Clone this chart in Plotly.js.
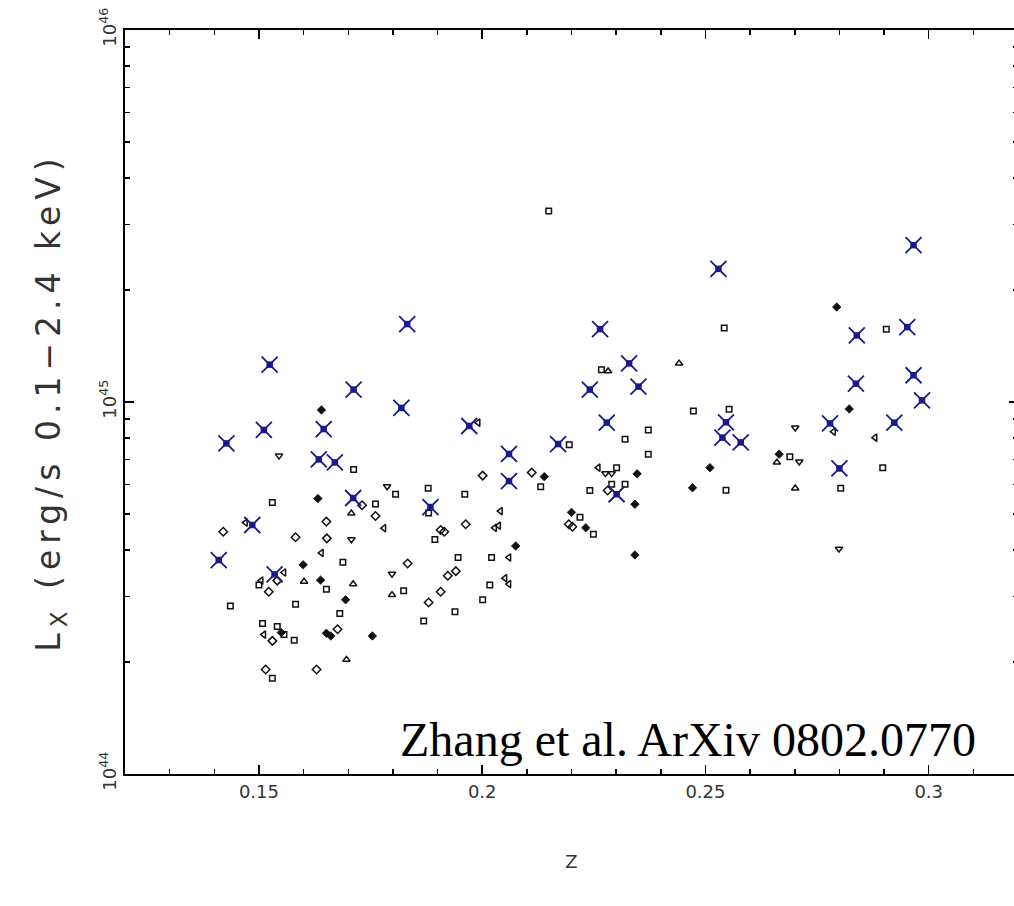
<!DOCTYPE html>
<html>
<head>
<meta charset="utf-8">
<script src="https://cdn.plot.ly/plotly-3.0.1.min.js"></script>
<style>
  html, body { margin: 0; padding: 0; overflow: hidden; background: #fff; }
  #chart { width: 1020px; height: 906px; }
  .ytitle { letter-spacing: 6px; }
</style>
</head>
<body>
<div id="chart"></div>
<script>
// ---- Data (redshift z, X-ray luminosity Lx in erg/s) ----
// Blue crosses
const crossZ = [0.1832,0.1524,0.1712,0.1819,0.1511,0.1645,0.1427,0.1634,0.1670,0.1711,0.1485,0.1410,0.1535,
  0.2264,0.2329,0.2241,0.2350,0.1971,0.2279,0.2170,0.2060,0.2060,0.2301,0.1884,
  0.2966,0.2529,0.2839,0.2952,0.2966,0.2837,0.2985,0.2546,0.2779,0.2923,0.2538,0.2579,0.2800];
const crossLx = [1.62e45,1.26e45,1.08e45,9.64e44,8.41e44,8.46e44,7.74e44,7.01e44,6.88e44,5.52e44,4.67e44,3.76e44,3.44e44,
  1.57e45,1.27e45,1.08e45,1.10e45,8.62e44,8.80e44,7.71e44,7.25e44,6.13e44,5.65e44,5.22e44,
  2.64e45,2.28e45,1.51e45,1.59e45,1.18e45,1.12e45,1.01e45,8.82e44,8.76e44,8.80e44,8.02e44,7.79e44,6.63e44];

// Open squares
const squareZ = [0.1712,0.1806,0.1879,0.1761,0.1530,0.1880,0.1688,0.1500,0.1651,0.1824,0.1436,0.1582,0.1681,0.1869,
  0.1508,0.1541,0.1556,0.1579,0.1530,0.2267,0.2473,0.2372,0.2320,0.2195,0.2372,0.2131,0.2301,0.2290,0.2320,0.2241,
  0.1961,0.2219,0.2249,0.1894,0.1946,0.2021,0.2149,0.2542,0.2905,0.2553,0.2689,0.2897,0.2546,0.2803,0.2017,0.2001,0.1939];
const squareLx = [6.58e44,5.65e44,5.86e44,5.32e44,5.37e44,5.03e44,3.71e44,3.22e44,3.14e44,3.11e44,2.83e44,2.86e44,2.70e44,2.58e44,
  2.54e44,2.49e44,2.37e44,2.29e44,1.81e44,1.22e45,9.46e44,8.41e44,7.94e44,7.67e44,7.24e44,5.92e44,6.66e44,6.01e44,6.01e44,5.78e44,
  5.65e44,4.90e44,4.41e44,4.27e44,3.82e44,3.82e44,3.26e45,1.58e45,1.57e45,9.56e44,7.13e44,6.66e44,5.79e44,5.86e44,3.22e44,2.94e44,2.73e44];

// Open diamonds
const diamondZ = [0.1731,0.1761,0.1420,0.1651,0.1582,0.1652,0.1833,0.1541,0.1522,0.1880,0.1530,0.1676,0.1515,0.1629,
  0.2001,0.2111,0.2281,0.1963,0.2194,0.2202,0.1907,0.1915,0.1923,0.1941,0.1907];
const diamondLx = [5.28e44,4.94e44,4.48e44,4.77e44,4.33e44,4.30e44,3.68e44,3.31e44,3.09e44,2.89e44,2.28e44,2.45e44,1.91e44,1.91e44,
  6.34e44,6.46e44,5.78e44,4.69e44,4.69e44,4.62e44,4.53e44,4.48e44,3.41e44,3.51e44,3.09e44];

// Open triangles (up)
const triUpZ = [0.1707,0.1601,0.1711,0.1798,0.1696,0.2282,0.2441,0.2660,0.2701];
const triUpLx = [5.02e44,3.29e44,3.24e44,3.03e44,2.03e44,1.21e45,1.27e45,6.88e44,5.86e44];

// Open triangles (down)
const triDownZ = [0.1545,0.1787,0.1707,0.1798,0.2276,0.2290,0.2701,0.2710,0.2799];
const triDownLx = [7.17e44,5.93e44,4.27e44,3.45e44,6.43e44,6.43e44,8.53e44,6.91e44,4.03e44];

// Open triangles (left)
const triLeftZ = [0.1470,0.1780,0.1640,0.1556,0.1505,0.1511,0.1991,0.2260,0.2041,0.2028,0.2037,0.2060,0.2787,0.2880,0.2051,0.2060];
const triLeftLx = [4.74e44,4.58e44,3.93e44,3.48e44,3.31e44,2.37e44,8.80e44,6.66e44,5.09e44,4.59e44,4.65e44,3.82e44,8.32e44,8.02e44,3.36e44,3.24e44];

// Filled symbols
const filledZ = [0.1640,0.1632,0.1599,0.1638,0.1694,0.1550,0.1651,0.1661,0.1754,0.2139,0.2347,0.2471,0.2342,0.2200,
  0.2232,0.2075,0.2342,0.2794,0.2822,0.2665,0.2510];
const filledLx = [9.52e44,5.50e44,3.65e44,3.32e44,2.94e44,2.40e44,2.39e44,2.35e44,2.35e44,6.30e44,6.41e44,5.88e44,5.31e44,5.05e44,
  4.59e44,4.10e44,3.88e44,1.80e45,9.58e44,7.24e44,6.66e44];

// Axis ticks
const yTickVals = [1e44, 1e45, 1e46];
const yTickText = ['10<sup>44</sup>', '10<sup>45</sup>', '10<sup>46</sup>'];
const yMinorVals = [2e44,3e44,4e44,5e44,6e44,7e44,8e44,9e44,2e45,3e45,4e45,5e45,6e45,7e45,8e45,9e45];

const black = '#111';
const navy = '#1a1a88';
function openTrace(x, y, sym, size) {
  return { type: 'scatter', mode: 'markers', x: x, y: y, hoverinfo: 'x+y',
    marker: { symbol: sym, size: size, color: black, line: { color: black, width: 1.5 } } };
}

const traces = [
  openTrace(squareZ, squareLx, 'square-open', 5.5),
  openTrace(diamondZ, diamondLx, 'diamond-open', 6.5),
  openTrace(triUpZ, triUpLx, 'triangle-up-open', 6.5),
  openTrace(triDownZ, triDownLx, 'triangle-down-open', 6.5),
  openTrace(triLeftZ, triLeftLx, 'triangle-left-open', 6.5),
  { type: 'scatter', mode: 'markers', x: filledZ, y: filledLx,
    marker: { symbol: 'diamond', size: 6.5, color: black, line: { color: black, width: 0.8 } } },
  { type: 'scatter', mode: 'markers', x: crossZ, y: crossLx,
    marker: { symbol: 'x-thin-open', size: 16, color: navy, line: { color: navy, width: 1.8 } } },
  { type: 'scatter', mode: 'markers', x: crossZ, y: crossLx,
    marker: { symbol: 'square', size: 6.5, color: navy, line: { width: 0 } } }
];

const layout = {
  width: 1020, height: 906,
  margin: { l: 125, r: 2, t: 30, b: 132 },
  paper_bgcolor: '#fff', plot_bgcolor: '#fff',
  showlegend: false,
  xaxis: {
    range: [0.12, 0.32], dtick: 0.05, tick0: 0,
    showline: true, linecolor: '#000', linewidth: 2, mirror: 'ticks',
    ticks: 'inside', ticklen: 9, tickwidth: 1.5, tickcolor: '#000',
    minor: { dtick: 0.01, tick0: 0, ticks: 'inside', ticklen: 5, tickwidth: 1.5, tickcolor: '#000', showgrid: false },
    showgrid: false, zeroline: false,
    tickfont: { family: 'DejaVu Sans, sans-serif', size: 18, color: '#333' },
    title: { text: 'Z', font: { family: 'DejaVu Sans, sans-serif', size: 18, color: '#333' }, standoff: 55 }
  },
  yaxis: {
    type: 'log', range: [44, 46],
    tickmode: 'array', tickvals: yTickVals, ticktext: yTickText, tickangle: -90,
    showline: true, linecolor: '#000', linewidth: 2, mirror: 'ticks',
    ticks: 'inside', ticklen: 9, tickwidth: 1.5, tickcolor: '#000',
    minor: { tickmode: 'array', tickvals: yMinorVals, ticks: 'inside', ticklen: 5, tickwidth: 1.5, tickcolor: '#000', showgrid: false },
    showgrid: false, zeroline: false,
    tickfont: { family: 'DejaVu Sans, sans-serif', size: 18, color: '#333' },
    title: { text: 'L<sub>X</sub> (erg/s 0.1\u22122.4 keV)', font: { family: 'DejaVu Sans, sans-serif', size: 33, color: '#333' }, standoff: 26 }
  },
  annotations: [
    { xref: 'paper', yref: 'paper', x: 0.63, y: 0.046, xanchor: 'center', yanchor: 'middle', showarrow: false,
      text: 'Zhang et al. ArXiv 0802.0770', font: { family: 'Liberation Serif, Times New Roman, serif', size: 48, color: '#000' } },
    { xref: 'paper', yref: 'paper', x: 0.955, y: 1.036, xanchor: 'left', yanchor: 'bottom', showarrow: false,
      text: '300', font: { family: 'DejaVu Sans, sans-serif', size: 14, color: '#2222cc' } }
  ]
};

Plotly.newPlot('chart', traces, layout, { displayModeBar: false, staticPlot: true });
</script>
</body>
</html>
